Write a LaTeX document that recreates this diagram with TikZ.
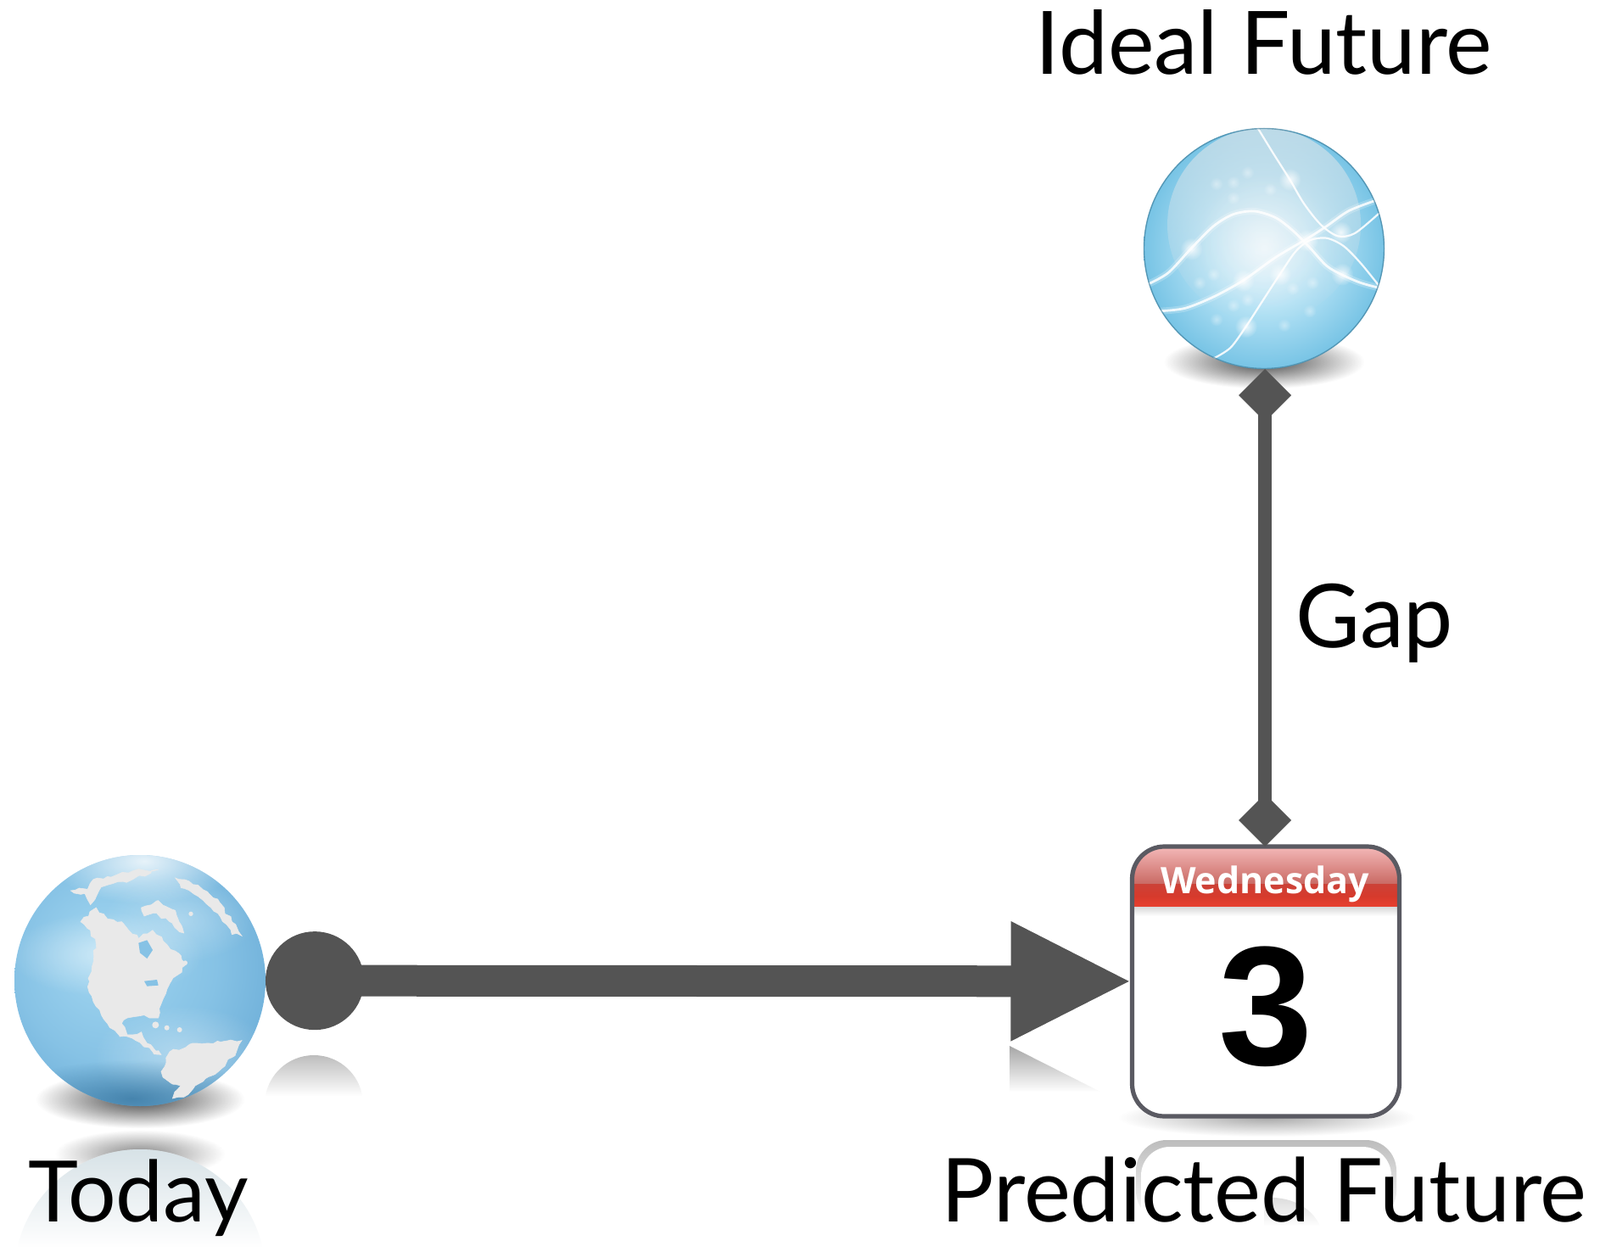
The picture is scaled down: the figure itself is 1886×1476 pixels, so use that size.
\documentclass[tikz,border=0pt]{standalone}
\usepackage{fontspec}
\setmainfont{Lato}
\newfontfamily\daysfont{Open Sans}
\newfontfamily\numfont{Liberation Sans}
\usetikzlibrary{arrows.meta,fadings,decorations.pathmorphing}
\definecolor{linkgrey}{HTML}{545454}
\definecolor{idealA}{HTML}{EFF9FE}
\definecolor{idealB}{HTML}{B8E4F6}
\definecolor{idealC}{HTML}{68BCE1}
\definecolor{idealD}{HTML}{50A4CA}
\definecolor{idealE}{HTML}{438DB1}
\definecolor{globeA}{HTML}{A3D7F1}
\definecolor{globeB}{HTML}{86C2E5}
\definecolor{globeC}{HTML}{65A8D4}
\definecolor{globeD}{HTML}{5597C6}
\definecolor{landgrey}{HTML}{E9E9E9}
\definecolor{capgrey}{HTML}{D8E4EA}
\definecolor{redA}{HTML}{F4B8B8}
\definecolor{redB}{HTML}{C96A64}
\definecolor{redC}{HTML}{CC4238}
\definecolor{redD}{HTML}{D63A2C}
\definecolor{redE}{HTML}{E8402F}
\definecolor{calrim}{HTML}{5A5A62}
\definecolor{bandblue}{HTML}{3A78A2}
\pgfdeclareradialshading{idealball}{\pgfpoint{0bp}{0bp}}{color(0bp)=(idealA);color(12bp)=(idealB);color(28bp)=(idealC);color(40bp)=(idealD);color(50bp)=(idealE)}
\pgfdeclareradialshading{globeball}{\pgfpoint{-8bp}{6bp}}{color(0bp)=(globeA);color(20bp)=(globeB);color(36bp)=(globeC);color(50bp)=(globeD)}
\tikzfading[name=softdisc,inner color=transparent!15,outer color=transparent!100]
\tikzset{
  x=0.5pt,y=-0.5pt,
  anchornode/.style={circle,inner sep=0pt,outer sep=0pt,minimum size=#1},
  label text/.style={font=\fontsize{52}{52}\selectfont,anchor=base,inner sep=0pt,text=black},
  heavy link/.style={line width=18.5pt,linkgrey,{Circle[length=58pt]}-{Triangle[length=71.5pt,width=65pt]}},
  gap link/.style={line width=8pt,linkgrey,{Diamond[length=31pt,width=31pt]}-{Diamond[length=31pt,width=31pt]}},
  soft/.style={path fading=softdisc},
  land/.style={fill=landgrey,draw=landgrey,line width=.3pt,decorate,decoration={random steps,segment length=3pt,amplitude=1.1pt}},
  curve/.style={white,line width=1.4pt,opacity=.85,line cap=round},
  curve halo/.style={white,line width=4pt,opacity=.22,line cap=round},
}
\begin{document}
\begin{tikzpicture}
\useasboundingbox (0,0) rectangle (1886,1476);
\fill[white] (0,0) rectangle (1886,1476);

% --- reflections
\fill[black,opacity=.55,soft] (65,1332) rectangle (265,1388);
\begin{scope}
  \clip (165,1503) circle[radius=148];
  \fill[white] (10,1340) rectangle (320,1480);
  \fill[idealB!75!black!70!white,opacity=.55,path fading=south] (10,1340) rectangle (320,1470);
\end{scope}
\begin{scope}
  \clip (370,1302) circle[radius=58];
  \fill[black!28,path fading=south] (300,1240) rectangle (440,1292);
\end{scope}
\fill[black!35,path fading=south] (1190,1233) -- (1297,1287) -- (1190,1287) -- cycle;
\begin{scope}
  \clip (1330,1335) rectangle (1655,1470);
  \fill[black!26,path fading=south,rounded corners=18pt] (1339,1440) -- (1339,1344) -- (1646,1344) -- (1646,1440) -- cycle;
  \fill[white,rounded corners=17pt] (1345,1352) rectangle (1640,1560);
  \fill[black!14,path fading=south] (1490,1412) .. controls (1520,1410) and (1545,1422) .. (1556,1445) -- (1490,1445) -- cycle;
\end{scope}

% --- Ideal Future sphere
\fill[black,opacity=.85,soft] (1372,395) rectangle (1608,458);
\begin{scope}
  \clip (1490,293) circle[radius=142];
  \shade[shading=idealball] (1490,293) circle[radius=142];
  \fill[capgrey,opacity=.72,path fading=south] (1490,265) circle[radius=114];
  \fill[white,opacity=.42,soft] (1410,205) rectangle (1570,365);
  \begin{scope}[shift={(1297,100)},x=0.16667pt,y=-0.16667pt]
    \foreach \p/\q in {410/350,470/400,520/310,470/345,400/670,350/700,470/780,520/760,680/720,750/700,740/800,650/850,410/830,600/370}{
      \fill[white,opacity=.45,soft] (\p,\q) circle[radius=24];
    }
    \foreach \w in {curve halo,curve}{
    \draw[\w] plot[smooth] coordinates {(165,707)(240,665)(320,580)(400,500)(470,458)(545,447)(620,470)(680,515)(740,575)(800,640)(855,672)(920,700)(985,718)};
    \draw[\w] plot[smooth] coordinates {(215,800)(300,790)(400,750)(505,692)(620,610)(730,545)(800,500)(880,445)(985,405)};
    \draw[\w,line width=1.1pt] plot[smooth] coordinates {(400,968)(460,930)(515,855)(570,770)(635,670)(690,590)(740,550)(800,542)(860,570)(920,630)(985,710)};
    \draw[\w,line width=1.1pt] plot[smooth] coordinates {(555,150)(610,240)(670,335)(720,420)(780,495)(840,535)(900,525)(985,455)};
    }
    \foreach \p/\q in {322/580,505/692,635/670,515/855,855/670,850/522,670/335,730/550}{
      \fill[white,opacity=.95,soft] (\p,\q) circle[radius=40];
    }
  \end{scope}
\end{scope}
\draw[idealE!85!black,line width=.7pt,opacity=.6] (1490,293) circle[radius=141.5];
\node[anchornode=142pt] (ideal) at (1491,293) {};

% --- Today globe
\fill[black,opacity=.85,soft] (42,1262) rectangle (288,1330);
\begin{scope}
  \clip (165,1156) circle[radius=148];
  \shade[shading=globeball] (165,1156) circle[radius=148];
  \fill[white,opacity=.95,soft] (60,965) rectangle (280,1065);
  \fill[white,opacity=.55,soft] (10,1075) rectangle (240,1175);
  \fill[white,opacity=.45,soft] (110,1185) rectangle (320,1305);
  \fill[white,opacity=.35,soft] (120,1035) rectangle (300,1135);
  \fill[bandblue,opacity=.95,soft] (0,1250) rectangle (310,1340);
  \begin{scope}[shift={(0,980)},x=0.16667pt,y=-0.16667pt]
    \fill[land] (285,320) -- (340,270) -- (380,310) -- (430,320) -- (490,380) -- (540,350) -- (590,400) -- (640,440) -- (660,470) -- (625,510) -- (590,560) -- (570,610) -- (560,660) -- (510,650) -- (450,660) -- (430,680) -- (450,720) -- (500,710) -- (520,750) -- (570,790) -- (540,780) -- (480,740) -- (420,720) -- (380,680) -- (340,620) -- (310,550) -- (325,480) -- (340,400) -- (320,350) -- cycle;
    \fill[globeB] (490,395) -- (520,385) -- (540,420) -- (520,450) -- (495,430) -- cycle;
    \fill[globeB] (510,530) -- (555,525) -- (560,545) -- (520,548) -- cycle;
    \fill[land] (500,270) -- (560,245) -- (620,280) -- (650,360) -- (600,320) -- (540,290) -- (510,300) -- cycle;
    \fill[land] (250,210) -- (310,205) -- (330,170) -- (380,160) -- (470,140) -- (560,135) -- (470,170) -- (380,190) -- (350,210) -- (320,260) -- (300,220) -- cycle;
    \fill[land] (620,165) -- (700,190) -- (770,240) -- (820,320) -- (855,370) -- (820,365) -- (770,290) -- (700,230) -- (640,200) -- cycle;
    \fill[land] (570,850) -- (600,780) -- (680,750) -- (780,745) -- (855,740) -- (820,800) -- (760,860) -- (690,900) -- (650,940) -- (610,945) -- (640,900) -- (590,880) -- cycle;
    \fill[landgrey] (550,685) circle[radius=12] (590,695) circle[radius=9] (635,702) circle[radius=9] (675,292) circle[radius=8] (655,465) circle[radius=8];
  \end{scope}
\end{scope}
\node[anchornode=148pt] (today) at (165,1156) {};

% --- calendar
\fill[black,opacity=.4,soft] (1318,1295) rectangle (1668,1340);
\begin{scope}
  \clip[rounded corners=19pt] (1334.5,998) rectangle (1650,1316);
  \fill[white] (1334,998) rectangle (1651,1316);
  \shade[top color=redA,bottom color=redB] (1334,998) rectangle (1651,1042);
  \shade[top color=redC,bottom color=redD] (1334,1042) rectangle (1651,1056);
  \shade[top color=redD,bottom color=redE] (1334,1056) rectangle (1651,1069);
  \shade[top color=black!15,bottom color=white] (1334,1069) rectangle (1651,1080);
\end{scope}
\node[draw=calrim,line width=2.6pt,rounded corners=19pt,minimum width=157.5pt,minimum height=159pt,inner sep=0pt,outer sep=0pt] (calendar) at (1492,1157) {};
\node[anchor=base,inner sep=0pt,text=white,font=\daysfont\bfseries\fontsize{21.5}{21.5}\selectfont] (dayname) at (1491,1053) {Wednesday};
\node[anchor=base,inner sep=0pt,text=black,font=\numfont\bfseries\fontsize{100}{100}\selectfont] (daynum) at (1492,1255) {3};

% --- connectors
\coordinate (gapfoot) at (calendar.north -| ideal);
\draw[heavy link] (today) -- (calendar);
\draw[gap link] (ideal) -- (gapfoot);

% --- labels
\node[label text,font=\fontsize{51.6}{52}\selectfont] (idealtext) at (1490,88) {Ideal Future};
\node[label text] (gaptext) at (1620,763) {Gap};
\node[label text,font=\fontsize{50}{52}\selectfont] (todaytext) at (163,1440) {Today};
\node[label text] (predtext) at (1490,1440) {Predicted Future};
\end{tikzpicture}
\end{document}
